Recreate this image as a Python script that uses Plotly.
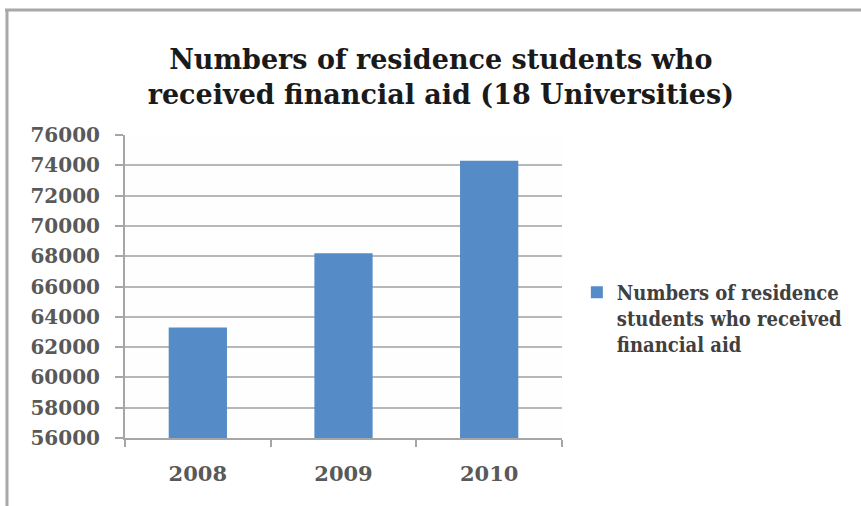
import plotly.graph_objects as go

# Data
years = ["2008", "2009", "2010"]
students_with_aid = [63300, 68200, 74300]
y_ticks = list(range(56000, 76001, 2000))

series_name = "Numbers of residence<br>students who received<br>financial aid"
title_text = "Numbers of residence students who<br>received financial aid (18 Universities)"

serif = "DejaVu Serif, serif"
serif_narrow = "DejaVu Serif Condensed, DejaVu Serif, serif"
bar_color = "#558cc8"
grid_color = "#b8b8b8"
axis_color = "#a6a6a6"
label_color = "#595959"

fig = go.Figure(
    go.Bar(
        x=years,
        y=students_with_aid,
        name=series_name,
        marker=dict(color=bar_color, line=dict(width=0)),
        showlegend=True,
    )
)

fig.update_layout(
    width=861,
    height=506,
    margin=dict(l=125, r=299, t=135, b=68, autoexpand=False),
    paper_bgcolor="white",
    plot_bgcolor="#fefefe",
    bargap=0.6,
    title=dict(
        text="<b>" + title_text + "</b>",
        x=0.512,
        xanchor="center",
        xref="container",
        y=0.864,
        yanchor="middle",
        font=dict(family=serif, size=27, color="#1a1a1a"),
    ),
    legend=dict(
        x=1.034,
        xanchor="left",
        y=0.545,
        yanchor="top",
        valign="top",
        bgcolor="rgba(0,0,0,0)",
        font=dict(family=serif_narrow, size=20, color="#404040", weight="bold"),
        itemwidth=30,
    ),
    xaxis=dict(
        type="category",
        showgrid=False,
        showline=True,
        linecolor=axis_color,
        linewidth=2,
        ticks="outside",
        tickson="boundaries",
        ticklen=7,
        tickwidth=2,
        tickcolor=axis_color,
        tickfont=dict(family=serif, size=21, color=label_color, weight="bold"),
        ticklabelstandoff=16,
    ),
    yaxis=dict(
        range=[56000, 76000],
        tickvals=y_ticks,
        ticktext=[str(v) for v in y_ticks],
        showgrid=True,
        gridcolor=grid_color,
        gridwidth=2,
        zeroline=False,
        showline=True,
        linecolor=axis_color,
        linewidth=2,
        ticks="outside",
        ticklen=8,
        tickwidth=2,
        tickcolor=axis_color,
        tickfont=dict(family=serif, size=20, color=label_color, weight="bold"),
        ticklabelstandoff=11,
    ),
)

# Chart frame: top and left border lines
frame_top = 1 + (135 - 10) / 303
fig.add_shape(
    type="line", xref="paper", yref="paper",
    x0=-120 / 437, x1=1 + 299 / 437, y0=frame_top, y1=frame_top,
    line=dict(color="#a8a8a8", width=3),
)
fig.add_shape(
    type="line", xref="paper", yref="paper",
    x0=-118 / 437, x1=-118 / 437, y0=frame_top, y1=-68 / 303,
    line=dict(color="#a8a8a8", width=3),
)

fig.write_html("out.html")
